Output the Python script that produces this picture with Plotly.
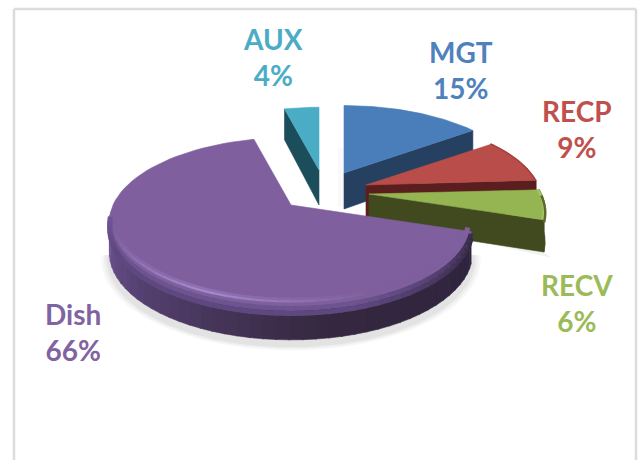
import numpy as np
import plotly.graph_objects as go

# Data, clockwise from 12 o'clock
categories = ["MGT", "RECP", "RECV", "Dish", "AUX"]
values = [15, 9, 6, 66, 4]

top_colors = ["#4a7ebb", "#b94d4a", "#94b552", "#7f5f9e", "#4bacc6"]
side_colors = ["#254061", "#5a1e1e", "#41491f", "#4b3a66", "#1c4d5a"]
text_colors = ["#4f81bd", "#c0504d", "#9bbb59", "#8064a2", "#4bacc6"]

# Pie presentation (pixel frame of the 638x460 page)
apexes = {"MGT": (344, 173), "RECP": (366, 185), "RECV": (369, 194), "Dish": (291, 205), "AUX": (319, 170)}
radius_scale = {"MGT": 1.0, "RECP": 0.97, "RECV": 0.97, "Dish": 1.0, "AUX": 0.93}
depth = {"MGT": 36, "RECP": 33, "RECV": 31, "Dish": 30, "AUX": 35}
label_pos = {"MGT": (461, 70), "RECP": (577, 129), "RECV": (577, 303), "Dish": (73, 332), "AUX": (273, 57)}
RX, RY, PERSP = 178, 81, 0.2
FONT = "Lato, Carlito, Calibri, sans-serif"

edges = np.concatenate([[0], np.cumsum(values)]) / sum(values) * 2 * np.pi
spans = {c: (edges[i], edges[i + 1]) for i, c in enumerate(categories)}


def project(theta, name, r=1.0, drop=0.0):
    u, v = np.sin(theta), -np.cos(theta)
    s = radius_scale[name] / (1 - PERSP * v)
    ax, ay = apexes[name]
    return ax + RX * r * u * s, ay + RY * r * v * s + drop * depth[name] * (1 + 0.12 * v)


def arc(name, a0, a1, r=1.0, drop=0.0, n=80):
    return project(np.linspace(a0, a1, n), name, r, drop)


fig = go.Figure()


def poly(x, y, color, line=None):
    fig.add_trace(go.Scatter(x=list(x), y=list(y), mode="lines", fill="toself", fillcolor=color,
                             line=dict(width=0.6, color=line or color), hoverinfo="skip", showlegend=False))


def stroke(x, y, color, width):
    fig.add_trace(go.Scatter(x=list(x), y=list(y), mode="lines", line=dict(width=width, color=color, shape="spline"),
                             hoverinfo="skip", showlegend=False))


def wedge(name, color):
    a0, a1 = spans[name]
    ax, ay = apexes[name]
    x, y = arc(name, a0, a1)
    poly(np.r_[ax, x, ax], np.r_[ay, y, ay], color)


def cut_face(name, angle, color):
    ax, ay = apexes[name]
    cx, cy = project(angle, name)
    bx, by = project(angle, name, drop=1)
    poly([ax, cx, bx, ax, ax], [ay, cy, by, ay + depth[name], ay], color)


def wall(name, a0, a1, color):
    x, y = arc(name, a0, a1)
    xb, yb = arc(name, a0, a1, drop=1)
    poly(np.r_[x, xb[::-1]], np.r_[y, yb[::-1]], color)


def mix(c1, c2, t):
    a = np.array([int(c1[i:i + 2], 16) for i in (1, 3, 5)])
    b = np.array([int(c2[i:i + 2], 16) for i in (1, 3, 5)])
    m = (a + (b - a) * t).astype(int)
    return f"#{m[0]:02x}{m[1]:02x}{m[2]:02x}"


# soft ground shadow
d0, d1 = spans["Dish"]
for grow, alpha in [(1.045, 0.03), (1.03, 0.035), (1.015, 0.045)]:
    x, y = arc("Dish", np.pi * 0.55, np.pi * 1.45, r=grow, drop=1.0)
    poly(x, y + 6, f"rgba(0,0,0,{alpha})", "rgba(0,0,0,0)")
for name in ["MGT", "AUX"]:
    ax, ay = apexes[name]
    poly([ax - 6, ax - 1, ax - 1, ax - 6], [ay - 25, ay - 25, ay + depth[name] - 2, ay + depth[name] - 2],
         "rgba(0,0,0,0.025)", "rgba(0,0,0,0)")
x, y = arc("RECV", spans["RECV"][1] - 0.1, spans["RECV"][1], r=1.0, drop=1.0)
poly([x[-1] - 110, x[-1], x[-1] + 8, x[-1] - 110], [y[-1] - 27, y[-1], y[-1] + 6, y[-1] - 21],
     "rgba(0,0,0,0.05)", "rgba(0,0,0,0)")

# AUX
cut_face("AUX", spans["AUX"][0], side_colors[4])
wedge("AUX", top_colors[4])

# MGT
cut_face("MGT", spans["MGT"][1], side_colors[0])
wedge("MGT", top_colors[0])

# RECP
cut_face("RECP", spans["RECP"][1], side_colors[1])
wedge("RECP", top_colors[1])
stroke(*arc("RECP", *spans["RECP"], r=0.995), "#a5423f", 1.5)

# RECV
cut_face("RECV", spans["RECV"][1], side_colors[2])
wall("RECV", spans["RECV"][0], spans["RECV"][1], side_colors[2])
wedge("RECV", top_colors[2])
stroke(*arc("RECV", *spans["RECV"], r=0.99), "#a8c468", 2)
stroke(*arc("RECV", spans["RECV"][0] + 0.05, spans["RECV"][1], r=1.0, drop=0.08), "#5b6a2b", 2.5)

# Dish wall with a dark-right to light-left gradient
wall_end = np.pi * 1.46
stops = np.linspace(d0, wall_end, 46)
for a0, a1 in zip(stops[:-1], stops[1:]):
    t = (0.5 * (a0 + a1) - d0) / (wall_end - d0)
    if t < 0.4:
        col = mix("#2f2440", "#35283f", t / 0.4)
    elif t < 0.75:
        col = mix("#35283f", "#54406f", (t - 0.4) / 0.35)
    else:
        col = mix("#54406f", "#6f5496", (t - 0.75) / 0.25)
    wall("Dish", a0, a1 + 0.006, col)

wedge("Dish", top_colors[3])

# soft bevel along the front rim of the Dish slice, fading out on the left
for a0, a1 in zip(stops[:-1], stops[1:]):
    t = (0.5 * (a0 + a1) - d0) / (wall_end - d0)
    glow = np.clip(1 - abs(t - 0.62) / 0.3, 0, 1)
    dark = np.clip((0.35 - t) / 0.35, 0, 1)
    fade = np.clip((1 - t) / 0.12, 0, 1)
    x, y = arc("Dish", a0, a1 + 0.01, r=0.98, drop=-0.12, n=6)
    stroke(x, y, mix("#7f5f9e", "#8f72b4", glow), 5)
    x, y = arc("Dish", a0, a1 + 0.01, r=0.985, drop=-0.1, n=6)
    stroke(x, y, mix("#7f5f9e", "#a78dce", glow), 2)
    x, y = arc("Dish", a0, a1 + 0.01, r=0.998, drop=0.07, n=6)
    stroke(x, y, mix("#6f5496", mix("#6d5490", "#3a2d4e", dark), fade), 5)
    x, y = arc("Dish", a0, a1 + 0.01, r=0.998, drop=0.22, n=6)
    stroke(x, y, mix("#6f5496", mix("#5f4880", "#342840", dark), fade), 5)

# Labels
for cat, val, col in zip(categories, values, text_colors):
    lx, ly = label_pos[cat]
    fig.add_annotation(x=lx, y=ly, text=f"<b>{cat}</b><br><b>{val}%</b>", showarrow=False,
                       xref="x", yref="y", xanchor="center", yanchor="middle", align="center",
                       font=dict(family=FONT, size=28, color=col))

# Chart frame
frame = dict(type="line", line=dict(color="#dcdcdc", width=2.5), xref="x", yref="y", layer="below")
fig.add_shape(x0=14, x1=14, y0=9, y1=460, **frame)
fig.add_shape(x0=14, x1=636, y0=9, y1=9, **frame)
fig.add_shape(x0=636, x1=636, y0=9, y1=460, **frame)

fig.update_layout(
    width=638, height=460, margin=dict(l=0, r=0, t=0, b=0), autosize=False,
    paper_bgcolor="white", plot_bgcolor="white", showlegend=False,
    xaxis=dict(range=[0, 638], visible=False, fixedrange=True),
    yaxis=dict(range=[460, 0], visible=False, fixedrange=True),
)
fig.write_html("out.html", config={"displayModeBar": False},
               post_script="document.body.style.margin='0';document.body.style.overflow='hidden';")
